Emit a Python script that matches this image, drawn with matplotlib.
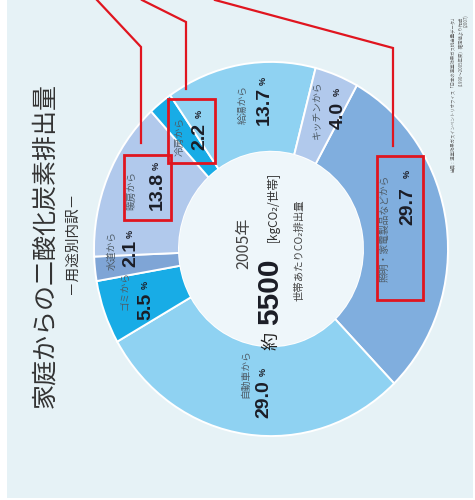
import matplotlib
matplotlib.use("Agg")
import matplotlib.pyplot as plt
from matplotlib.patches import Rectangle, Ellipse

plt.rcParams['font.family'] = ['Noto Sans CJK JP', 'DejaVu Sans']

# ---- data ----
labels = ["照明・家電製品などから", "自動車から", "ゴミから", "水道から",
          "暖房から", "冷房から", "給湯から", "キッチンから"]
values = [29.7, 29.0, 5.5, 2.1, 13.8, 2.2, 13.7, 4.0]
colors = ["#80aede", "#8fd2f2", "#18ace6", "#7fa5d6",
          "#b1c9ec", "#18ace6", "#8fd2f2", "#b1c9ec"]
value_labels = ["29.7", "29.0", "5.5", "2.1", "13.8", "2.2", "13.7", "4.0"]

title = "家庭からの二酸化炭素排出量"
subtitle = "－用途別内訳－"
year_text = "2005年"
total_text = "5500"
unit_text = "[kgCO₂/世帯]"
per_text = "世帯あたりCO₂排出量"
note_text = ("出典：温室効果ガスインベントリオフィス「日本の温室効果ガス排出量データ」\n"
             "（1990〜2005年度）確定値より作成\n"
             "(2007)")

# ---- layout helpers (image pixel coords -> data) ----
W, H = 475, 500
K = 1.057  # vertical stretch of the reference


def P(x, y):
    return (x, (H - y) / K)


fig = plt.figure(figsize=(W / 100, H / 100), dpi=100)
fig.patch.set_facecolor("white")
ax = fig.add_axes([0, 0, 1, 1])

# panel background
x0, y0 = P(7, 498)
ax.add_patch(Rectangle((x0, y0), 466, 498 / K, facecolor="#e6f2f6",
                       edgecolor="none", zorder=0))

cx, cy = 271, 249
R = 177
Wd = 85
ax.pie(values, colors=colors, startangle=61, counterclock=False,
       radius=R, center=P(cx, cy),
       wedgeprops=dict(width=Wd, edgecolor="white", linewidth=1.4))
ax.add_patch(Ellipse(P(cx, cy), 2 * (R - Wd), 2 * (R - Wd),
                     facecolor="#eef6fa", edgecolor="none", zorder=1))

ax.set_aspect("auto")
ax.set_xlim(0, W)
ax.set_ylim(0, H / K)
ax.axis("off")

TXT = "#4e5b66"
NUM = "#1b1d26"

# title
ax.text(*P(45, 246), title, rotation=90, ha="center", va="center",
        fontsize=18, color="#333333")
ax.text(*P(72, 243), subtitle, rotation=90, ha="center", va="center",
        fontsize=10.5, color="#333333")

# segment labels: (label pos, number pos, % pos)
pos = {
    0: ((385, 228), (408, 206), (407, 174)),
    1: ((245, 374), (264, 399), (263, 372)),
    2: ((126, 290), (146, 306), (145, 285)),
    3: ((112, 250), (131, 253), (130, 234)),
    4: ((131, 190), (157, 191), (156, 166)),
    5: ((180, 136), (200, 137), (199, 114)),
    6: ((243, 105), (264, 106), (263, 81)),
    7: ((317, 110), (338, 115), (337, 92)),
}
for i, (lp, npos, ppos) in pos.items():
    ax.text(*P(*lp), labels[i], rotation=90, ha="center", va="center",
            fontsize=7, color=TXT)
    ax.text(*P(*npos), value_labels[i], rotation=90, ha="center",
            va="center", fontsize=14, fontweight="bold", color=NUM,
            family=["Liberation Sans", "DejaVu Sans"])
    ax.text(*P(*ppos), "%", rotation=90, ha="center", va="center",
            fontsize=6.5, fontweight="bold", color=NUM,
            family=["Liberation Sans", "DejaVu Sans"])

# center text
ax.text(*P(244, 243), year_text, rotation=90, ha="center", va="center",
        fontsize=11.5, color="#444444")
ax.text(*P(271, 341), "約", rotation=90, ha="center", va="center",
        fontsize=13, color="#222222")
ax.text(*P(270, 292), total_text, rotation=90, ha="center", va="center",
        fontsize=21.5, fontweight="bold", color="#1b1d26",
        family=["Liberation Sans", "DejaVu Sans"])
ax.text(*P(273, 207), unit_text, rotation=90, ha="center", va="center",
        fontsize=8.5, color="#333333")
ax.text(*P(299, 250), per_text, rotation=90, ha="center", va="center",
        fontsize=7.5, color="#444444")

# footnote
ax.text(*P(459, 14), note_text, rotation=90, ha="center", va="top",
        fontsize=3.2, color="#666666", multialignment="right",
        linespacing=1.4)

# red callouts
RED = "#e0151f"
lines = [
    [(97, 0), (141, 47), (141, 143)],
    [(142, 0), (186, 22), (186, 89)],
    [(215, 0), (393, 48), (393, 146)],
]
for ln in lines:
    xs = [P(*p)[0] for p in ln]
    ys = [P(*p)[1] for p in ln]
    ax.plot(xs, ys, color=RED, lw=1.6, solid_joinstyle="miter", zorder=5,
            clip_on=False)

boxes = [(124, 155, 171, 220), (168, 99, 215, 163), (377, 156, 423, 300)]
for (bx0, by0, bx1, by1) in boxes:
    px, py = P(bx0, by1)
    ax.add_patch(Rectangle((px, py), bx1 - bx0, (by1 - by0) / K,
                           facecolor="none", edgecolor=RED, lw=2.0,
                           zorder=6))

fig.savefig("out.png", dpi=100, facecolor="white")
